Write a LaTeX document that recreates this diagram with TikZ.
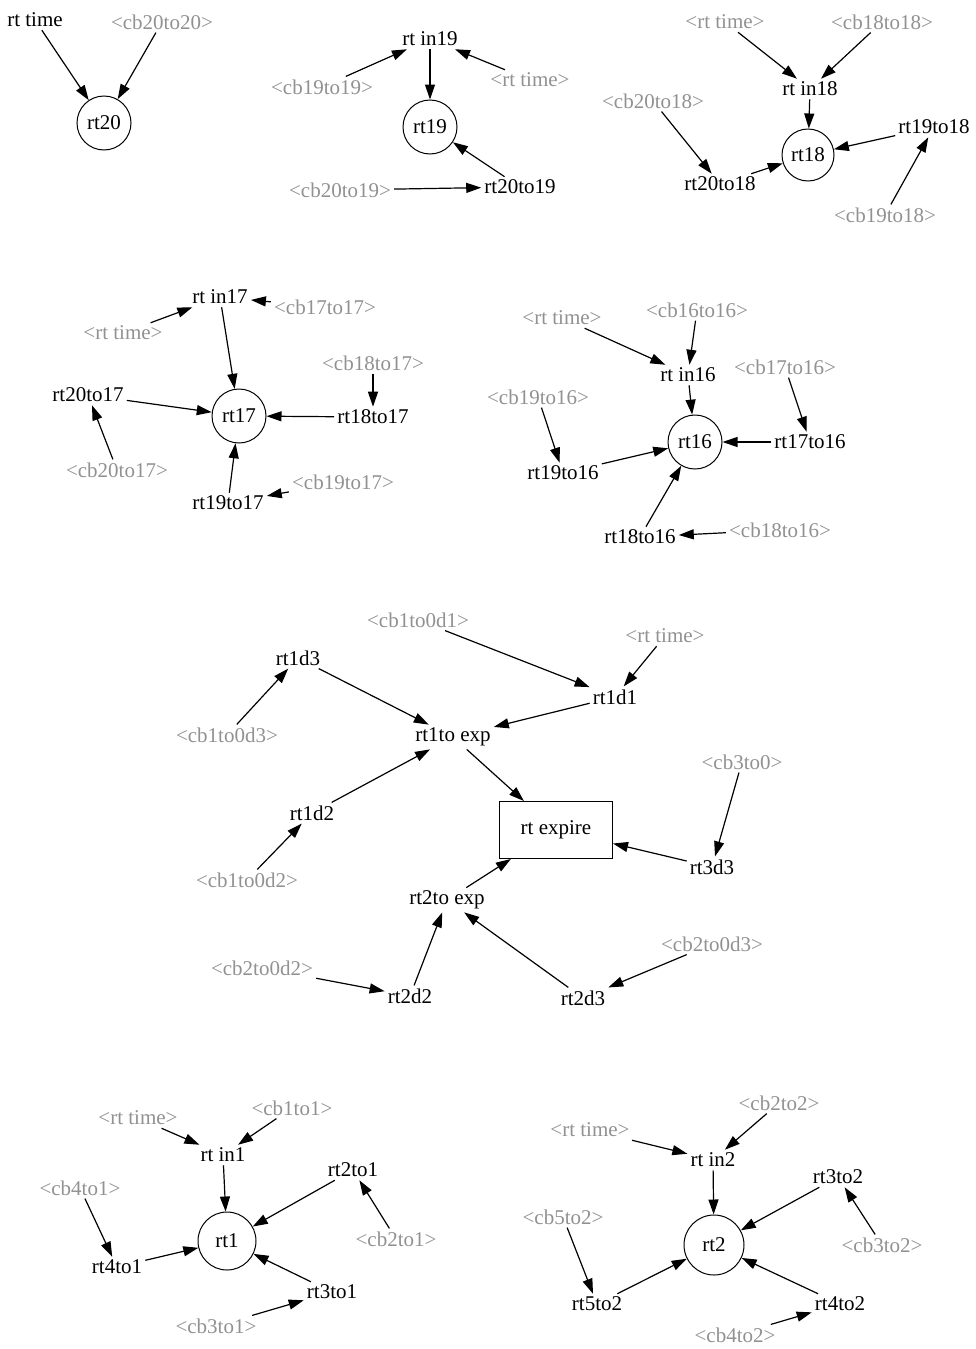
\documentclass[tikz,border=0pt]{standalone}
\usepackage{fontspec}
\setmainfont{Liberation Serif}
\usetikzlibrary{arrows.meta}
\definecolor{lbl}{RGB}{145,145,145}
\begin{document}
\begin{tikzpicture}[x=1pt,y=-1pt,
  blk/.style={font=\fontsize{21}{24}\selectfont, inner sep=3pt},
  gry/.style={font=\fontsize{21}{24}\selectfont, text=lbl, inner sep=3pt},
  circ/.style={circle, draw, line width=1pt, minimum size=54pt, inner sep=0pt, font=\fontsize{21}{24}\selectfont},
  boxn/.style={rectangle, draw, line width=1pt, minimum width=113pt, minimum height=57pt, font=\fontsize{21}{24}\selectfont},
  arr/.style={-{Triangle[length=15pt,width=10pt]}, line width=1.2pt}]
\useasboundingbox (0,0) rectangle (976,1349);
% ---------- rt20
\node[blk] (a1) at (35,20) {rt time};
\node[gry] (a2) at (162,22) {<cb20to20>};
\node[circ] (a0) at (104,123) {rt20};
\draw[arr] (a1) -- (a0);
\draw[arr] (a2) -- (a0);
% ---------- rt19
\node[blk] (b1) at (430,39) {rt in19};
\node[gry] (b2) at (322,87) {<cb19to19>};
\node[gry] (b3) at (530,80) {<rt time>};
\node[circ] (b0) at (430,127) {rt19};
\node[blk] (b4) at (520,187) {rt20to19};
\node[gry] (b5) at (340,190) {<cb20to19>};
\draw[arr] (b2) -- (b1);
\draw[arr] (b3) -- (b1);
\draw[arr] (b1) -- (b0);
\draw[arr] (b4) -- (b0);
\draw[arr] (b5) -- (b4);
% ---------- rt18
\node[gry] (c1) at (725,22) {<rt time>};
\node[gry] (c2) at (882,22) {<cb18to18>};
\node[blk] (c3) at (810,89) {rt in18};
\node[gry] (c4) at (653,101) {<cb20to18>};
\node[circ, minimum size=52pt] (c0) at (808,155) {rt18};
\node[blk] (c5) at (934,127) {rt19to18};
\node[blk] (c6) at (720,184) {rt20to18};
\node[gry] (c7) at (885,215) {<cb19to18>};
\draw[arr] (c1) -- (c3);
\draw[arr] (c2) -- (c3);
\draw[arr] (c3) -- (c0);
\draw[arr] (c6) -- (c0);
\draw[arr] (c5) -- (c0);
\draw[arr] (c4) -- (c6);
\draw[arr] (c7) -- (c5);
% ---------- rt17
\node[blk] (d1) at (220,297) {rt in17};
\node[gry] (d2) at (325,307) {<cb17to17>};
\node[gry] (d3) at (123,333) {<rt time>};
\node[gry] (d4) at (373,363) {<cb18to17>};
\node[blk] (d5) at (88,395) {rt20to17};
\node[circ] (d0) at (239,416) {rt17};
\node[blk] (d6) at (373,417) {rt18to17};
\node[gry] (d7) at (117,470) {<cb20to17>};
\node[gry] (d8) at (343,482) {<cb19to17>};
\node[blk] (d9) at (228,503) {rt19to17};
\draw[arr] (d3) -- (d1);
\draw[arr] (d2) -- (d1);
\draw[arr] (d1) -- (d0);
\draw[arr] (d5) -- (d0);
\draw[arr] (d6) -- (d0);
\draw[arr] (d4) -- (d6);
\draw[arr] (d7) -- (d5);
\draw[arr] (d9) -- (d0);
\draw[arr] (d8) -- (d9);
% ---------- rt16
\node[gry] (e1) at (562,318) {<rt time>};
\node[gry] (e2) at (697,310) {<cb16to16>};
\node[blk] (e3) at (688,375) {rt in16};
\node[gry] (e4) at (785,367) {<cb17to16>};
\node[gry] (e5) at (538,397) {<cb19to16>};
\node[circ] (e0) at (695,442) {rt16};
\node[blk] (e6) at (810,442) {rt17to16};
\node[blk] (e7) at (563,473) {rt19to16};
\node[blk] (e8) at (640,537) {rt18to16};
\node[gry] (e9) at (780,530) {<cb18to16>};
\draw[arr] (e1) -- (e3);
\draw[arr] (e2) -- (e3);
\draw[arr] (e3) -- (e0);
\draw[arr] (e4) -- (e6);
\draw[arr] (e6) -- (e0);
\draw[arr] (e5) -- (e7);
\draw[arr] (e7) -- (e0);
\draw[arr] (e8) -- (e0);
\draw[arr] (e9) -- (e8);
% ---------- expire
\node[gry] (f1) at (418,620) {<cb1to0d1>};
\node[blk] (f2) at (298,658) {rt1d3};
\node[gry] (f3) at (665,636) {<rt time>};
\node[blk] (f4) at (615,697) {rt1d1};
\node[gry] (f5) at (227,735) {<cb1to0d3>};
\node[blk] (f6) at (453,737) {rt1to exp};
\node[blk] (f7) at (312,813) {rt1d2};
\node[boxn] (f0) at (556,830) {rt expire};
\node[gry] (f8) at (742,762) {<cb3to0>};
\node[blk] (f9) at (712,867) {rt3d3};
\node[gry] (f10) at (247,880) {<cb1to0d2>};
\node[blk] (f11) at (447,900) {rt2to exp};
\node[gry] (f12) at (712,944) {<cb2to0d3>};
\node[gry] (f13) at (262,968) {<cb2to0d2>};
\node[blk] (f14) at (410,996) {rt2d2};
\node[blk] (f15) at (583,998) {rt2d3};
\draw[arr] (f1) -- (f4);
\draw[arr] (f3) -- (f4);
\draw[arr] (f4) -- (f6);
\draw[arr] (f2) -- (f6);
\draw[arr] (f5) -- (f2);
\draw[arr] (f7) -- (f6);
\draw[arr] (f10) -- (f7);
\draw[arr] (f6) -- (f0);
\draw[arr] (f11) -- (f0);
\draw[arr] (f9) -- (f0);
\draw[arr] (f8) -- (f9);
\draw[arr] (f14) -- (f11);
\draw[arr] (f13) -- (f14);
\draw[arr] (f15) -- (f11);
\draw[arr] (f12) -- (f15);
% ---------- rt1
\node[gry] (g1) at (138,1118) {<rt time>};
\node[gry] (g2) at (292,1108) {<cb1to1>};
\node[blk] (g3) at (223,1155) {rt in1};
\node[gry] (g4) at (80,1188) {<cb4to1>};
\node[blk] (g5) at (353,1170) {rt2to1};
\node[circ, minimum size=58pt] (g0) at (227,1241) {rt1};
\node[gry] (g6) at (396,1239) {<cb2to1>};
\node[blk] (g7) at (117,1267) {rt4to1};
\node[blk] (g8) at (332,1292) {rt3to1};
\node[gry] (g9) at (216,1326) {<cb3to1>};
\draw[arr] (g1) -- (g3);
\draw[arr] (g2) -- (g3);
\draw[arr] (g3) -- (g0);
\draw[arr] (g5) -- (g0);
\draw[arr] (g6) -- (g5);
\draw[arr] (g4) -- (g7);
\draw[arr] (g7) -- (g0);
\draw[arr] (g8) -- (g0);
\draw[arr] (g9) -- (g8);
% ---------- rt2
\node[gry] (h1) at (590,1130) {<rt time>};
\node[gry] (h2) at (779,1103) {<cb2to2>};
\node[blk] (h3) at (713,1160) {rt in2};
\node[blk] (h4) at (838,1177) {rt3to2};
\node[gry] (h5) at (563,1217) {<cb5to2>};
\node[circ, minimum size=60pt] (h0) at (714,1245) {rt2};
\node[gry] (h6) at (882,1245) {<cb3to2>};
\node[blk] (h7) at (597,1304) {rt5to2};
\node[blk] (h8) at (840,1304) {rt4to2};
\node[gry] (h9) at (735,1335) {<cb4to2>};
\draw[arr] (h1) -- (h3);
\draw[arr] (h2) -- (h3);
\draw[arr] (h3) -- (h0);
\draw[arr] (h4) -- (h0);
\draw[arr] (h6) -- (h4);
\draw[arr] (h5) -- (h7);
\draw[arr] (h7) -- (h0);
\draw[arr] (h8) -- (h0);
\draw[arr] (h9) -- (h8);
\end{tikzpicture}
\end{document}
